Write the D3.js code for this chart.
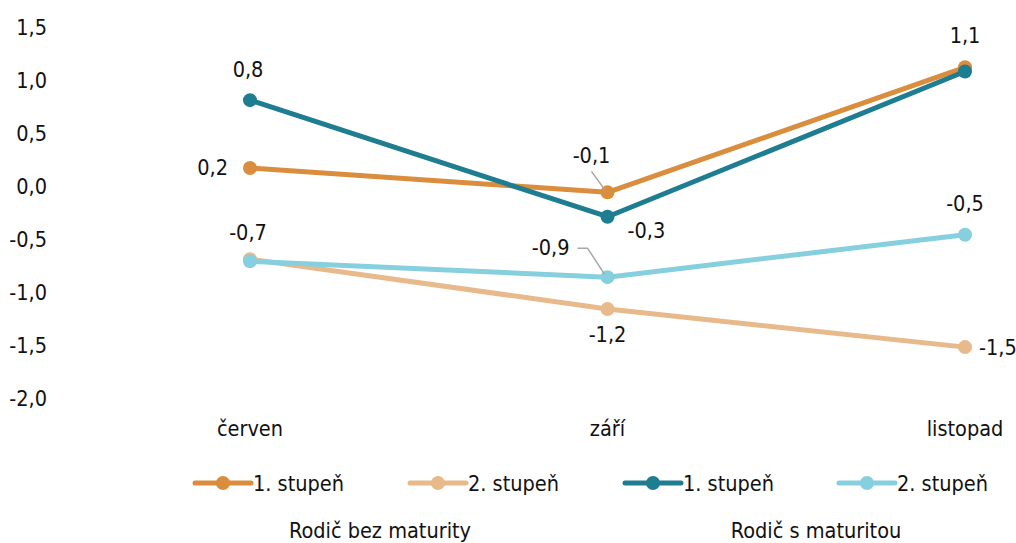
<!DOCTYPE html>
<html>
<head>
<meta charset="utf-8">
<script src="https://cdnjs.cloudflare.com/ajax/libs/d3/7.8.5/d3.min.js"></script>
<style>
  body { margin: 0; background: #fff; }
  svg text { font-family: "Liberation Sans Narrow", "DejaVu Sans Condensed", "Roboto", sans-serif; font-size: 21.5px; fill: #111; }
</style>
</head>
<body>
<svg id="chart" width="1016" height="543"></svg>
<script>
// categories (months)
const months = ["červen", "září", "listopad"];

// y axis ticks
const yTicks = [1.5, 1.0, 0.5, 0.0, -0.5, -1.0, -1.5, -2.0];

// series values
const bezMat1 = [0.17, -0.06, 1.12];
const bezMat2 = [-0.69, -1.16, -1.52];
const sMat1 = [0.81, -0.29, 1.08];
const sMat2 = [-0.71, -0.86, -0.46];

const seriesNames = ["1. stupeň", "2. stupeň", "1. stupeň", "2. stupeň"];
const groupNames = ["Rodič bez maturity", "Rodič s maturitou"];

const colors = ["#d98d3d", "#e8b98a", "#1e7d91", "#86cfdf"];

// which point labels are shown, and where (label placement only)
const labelPlacement = [
  [{dx: -22, dy: 7, anchor: "end"}, {dx: -16, dy: -29, anchor: "middle", leader: "up"}, {dx: 0, dy: -24, anchor: "middle"}],
  [{dx: -2, dy: -19, anchor: "middle"}, {dx: 0, dy: 33, anchor: "middle"}, {dx: 14, dy: 8, anchor: "start"}],
  [{dx: -2, dy: -23, anchor: "middle"}, {dx: 20, dy: 21, anchor: "start"}, null],
  [null, {dx: -38, dy: -29, anchor: "end", leader: "left"}, {dx: 0, dy: -24, anchor: "middle"}]
];

const svg = d3.select("#chart");

const x = d3.scalePoint().domain(months).range([250, 965]);
const y = d3.scaleLinear().domain([-2, 1.5]).range([398, 27]);

const fmt = v => d3.format(".1f")(v).replace(".", ",").replace("−", "-");

// y axis labels (no line)
svg.append("g")
  .selectAll("text")
  .data(yTicks)
  .join("text")
  .attr("x", 47)
  .attr("y", d => y(d))
  .attr("dy", "0.35em")
  .attr("text-anchor", "end")
  .text(d => fmt(d));

// x axis labels
svg.append("g")
  .selectAll("text")
  .data(months)
  .join("text")
  .attr("x", d => x(d))
  .attr("y", 436)
  .attr("text-anchor", "middle")
  .text(d => d);

const allSeries = [bezMat1, bezMat2, sMat1, sMat2];
const drawOrder = [1, 3, 0, 2];

const line = d3.line()
  .x((d, i) => x(months[i]))
  .y(d => y(d));

drawOrder.forEach(s => {
  const g = svg.append("g");
  g.append("path")
    .datum(allSeries[s])
    .attr("fill", "none")
    .attr("stroke", colors[s])
    .attr("stroke-width", 5)
    .attr("stroke-linejoin", "round")
    .attr("d", line);
  g.selectAll("circle")
    .data(allSeries[s])
    .join("circle")
    .attr("cx", (d, i) => x(months[i]))
    .attr("cy", d => y(d))
    .attr("r", 7)
    .attr("fill", colors[s]);
});

// point labels with leaders
allSeries.forEach((vals, s) => {
  vals.forEach((v, i) => {
    const p = labelPlacement[s][i];
    if (!p) return;
    const px = x(months[i]), py = y(v);
    const tx = px + p.dx, ty = py + p.dy;
    if (p.leader === "up") {
      svg.append("path")
        .attr("d", `M${px - 3},${py - 3} L${tx},${ty + 8}`)
        .attr("stroke", "#a6a6a6").attr("stroke-width", 1.5).attr("fill", "none");
    } else if (p.leader === "left") {
      svg.append("path")
        .attr("d", `M${px - 3},${py - 3} L${px - 20},${ty} L${tx + 8},${ty}`)
        .attr("stroke", "#a6a6a6").attr("stroke-width", 1.5).attr("fill", "none");
    }
    svg.append("text")
      .attr("x", tx)
      .attr("y", ty)
      .attr("dy", p.leader === "left" ? "0.3em" : "0")
      .attr("text-anchor", p.anchor)
      .text(fmt(v));
  });
});

// legend
const legendX = [195, 410, 625, 839];
const legend = svg.append("g");
seriesNames.forEach((name, s) => {
  const lg = legend.append("g").attr("transform", `translate(${legendX[s]},483)`);
  lg.append("line")
    .attr("x1", 0).attr("x2", 56)
    .attr("stroke", colors[s]).attr("stroke-width", 5).attr("stroke-linecap", "round");
  lg.append("circle").attr("cx", 28).attr("r", 7).attr("fill", colors[s]);
  lg.append("text").attr("x", 58).attr("dy", "0.35em").text(name);
});

// group labels
const groupX = [380, 816];
svg.append("g")
  .selectAll("text")
  .data(groupNames)
  .join("text")
  .attr("x", (d, i) => groupX[i])
  .attr("y", 538)
  .attr("text-anchor", "middle")
  .text(d => d);
</script>
</body>
</html>
